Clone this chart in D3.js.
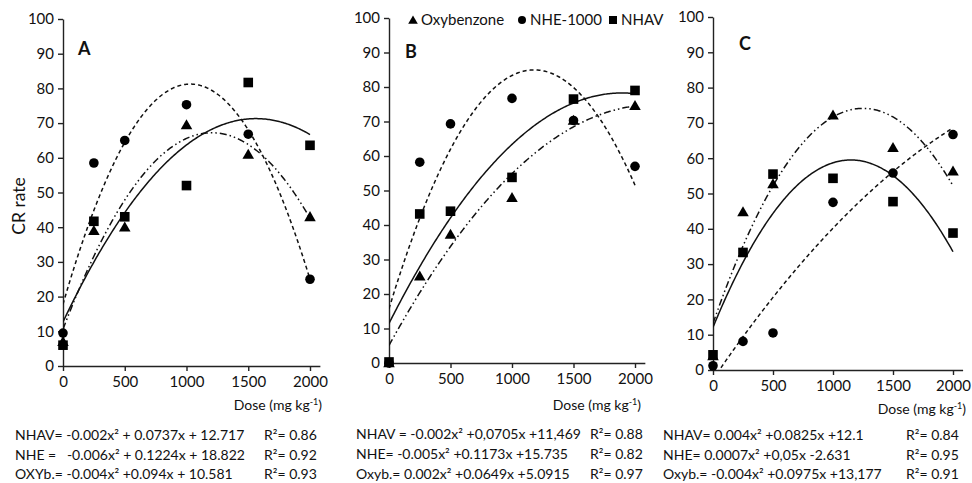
<!DOCTYPE html>
<html>
<head>
<meta charset="utf-8">
<script src="https://cdn.jsdelivr.net/npm/d3@7"></script>
<style>
  body { margin: 0; background: #fff; }
  text { font-family: Lato, "Open Sans", sans-serif; fill: #111; }
</style>
</head>
<body>
<svg id="chart" width="972" height="483"></svg>
<script>
// doses (mg/kg) and tick labels
const doses = [0, 250, 500, 1000, 1500, 2000];
const xTicks = [0, 500, 1000, 1500, 2000];
const yTicks = [0, 10, 20, 30, 40, 50, 60, 70, 80, 90, 100];
const seriesNames = ["Oxybenzone", "NHE-1000", "NHAV"];
const panelLabels = ["A", "B", "C"];

// CR rate
const oxyA = [7, 39, 40, 69.5, 61, 43];
const nheA = [9.5, 58.5, 65, 75.3, 66.8, 25];
const nhavA = [6, 41.7, 43, 52, 81.7, 63.6];

const oxyB = [0, 25.2, 37.3, 47.9, 70.3, 74.6];
const nheB = [0, 58.2, 69.3, 76.7, 70.3, 57];
const nhavB = [0.3, 43.2, 44, 53.8, 76.5, 79];

const oxyC = [4, 44.8, 52.7, 72.2, 63, 56.3];
const nheC = [1.2, 8.1, 10.5, 47.5, 55.8, 66.7];
const nhavC = [4.3, 33.3, 55.5, 54.3, 47.7, 38.8];

// trend line coefficients [c, b, a] for y = c + b*x + a*x^2 (x in mg/kg)
const fitOxyA = [10.58, 0.094, -3.9e-5];
const fitNheA = [17.8, 0.1232, -5.98e-5];
const fitNhavA = [12.7, 0.075, -2.4e-5];

const fitOxyB = [5.09, 0.0649, -1.51e-5];
const fitNheB = [15.74, 0.1173, -4.97e-5];
const fitNhavB = [11.47, 0.0705, -1.86e-5];

const fitOxyC = [13.18, 0.0975, -3.9e-5];
const fitNheC = [-2.63, 0.05, -7.2e-6];
const fitNhavC = [12.1, 0.0825, -3.59e-5];

// equations printed under each panel
const eqA = ["NHAV= -0.002x\u00b2 + 0.0737x + 12.717", "NHE =   -0.006x\u00b2 + 0.1224x + 18.822", "OXYb.= -0.004x\u00b2 +0.094x + 10.581"];
const r2A = ["R\u00b2= 0.86", "R\u00b2= 0.92", "R\u00b2= 0.93"];
const eqB = ["NHAV = -0.002x\u00b2 +0,0705x +11,469", "NHE= -0.005x\u00b2 +0.1173x +15.735", "Oxyb.= 0.002x\u00b2 +0.0649x +5.0915"];
const r2B = ["R\u00b2= 0.88", "R\u00b2= 0.82", "R\u00b2= 0.97"];
const eqC = ["NHAV= 0.004x\u00b2 +0.0825x +12.1", "NHE= 0.0007x\u00b2 +0,05x -2.631", "Oxyb.= -0.004x\u00b2 +0.0975x +13,177"];
const r2C = ["R\u00b2= 0.84", "R\u00b2= 0.95", "R\u00b2= 0.91"];

const panels = [
  { label: "A", oxy: oxyA, nhe: nheA, nhav: nhavA, fits: [fitOxyA, fitNheA, fitNhavA], eq: eqA, r2: r2A,
    x0: 63, x2000: 310, yB: 366, yT: 19, lab: [78, 55], eqX: 15, r2X: 264, eqY: [440, 460, 479], doseX: 322, doseY: 410 },
  { label: "B", oxy: oxyB, nhe: nheB, nhav: nhavB, fits: [fitOxyB, fitNheB, fitNhavB], eq: eqB, r2: r2B,
    x0: 389, x2000: 635, yB: 363, yT: 18, lab: [405, 58], eqX: 356, r2X: 590, eqY: [439, 459, 479], doseX: 641, doseY: 410 },
  { label: "C", oxy: oxyC, nhe: nheC, nhav: nhavC, fits: [fitOxyC, fitNheC, fitNhavC], eq: eqC, r2: r2C,
    x0: 713, x2000: 953, yB: 370, yT: 17, lab: [739, 50], eqX: 663, r2X: 906, eqY: [440, 460, 479], doseX: 966, doseY: 414 }
];

const dashes = ["7,3,1.5,3,1.5,3", "4,3", null];
const svg = d3.select("#chart");

panels.forEach((p, i) => {
  const x = d3.scaleLinear().domain([0, 2000]).range([p.x0, p.x2000]);
  const xEnd = x(2080);
  const xAxisScale = d3.scaleLinear().domain([0, 2080]).range([p.x0, xEnd]);
  const y = d3.scaleLinear().domain([0, 100]).range([p.yB, p.yT]);

  const g = svg.append("g");

  const clipId = "clip" + i;
  svg.append("clipPath").attr("id", clipId)
    .append("rect").attr("x", p.x0).attr("y", p.yT - 5).attr("width", xEnd - p.x0).attr("height", p.yB - p.yT + 5);

  // axes
  const ya = g.append("g").attr("transform", `translate(${p.x0},0)`)
    .call(d3.axisLeft(y).tickValues(yTicks).tickSize(5).tickSizeOuter(0));
  const xa = g.append("g").attr("transform", `translate(0,${p.yB})`)
    .call(d3.axisBottom(xAxisScale).tickValues(xTicks).tickSize(5).tickSizeOuter(0).tickFormat(d3.format("d")));
  [ya, xa].forEach(a => {
    a.select(".domain").attr("stroke", "#222").attr("stroke-width", 1.4);
    a.selectAll(".tick line").attr("stroke", "#222").attr("stroke-width", 1.4);
    a.selectAll(".tick text").style("font-size", "15px").attr("fill", "#111");
  });
  ya.selectAll(".tick text").attr("x", -9);
  xa.selectAll(".tick text").attr("y", 10);

  // trend lines
  const xs = d3.range(0, 2001, 10);
  const line = d3.line().x(d => x(d[0])).y(d => y(d[1]));
  p.fits.forEach((f, k) => {
    const pts = xs.map(v => [v, f[0] + f[1] * v + f[2] * v * v]);
    g.append("path").attr("clip-path", `url(#${clipId})`)
      .attr("d", line(pts)).attr("fill", "none").attr("stroke", "#111")
      .attr("stroke-width", 1.5).attr("stroke-dasharray", dashes[k]);
  });

  // markers: Oxybenzone (triangle), NHE (circle), NHAV (square)
  const tri = d3.symbol().type(d3.symbolTriangle).size(58);
  g.selectAll(".tri").data(doses.map((d, j) => [d, p.oxy[j]])).join("path")
    .attr("d", tri).attr("transform", d => `translate(${x(d[0])},${y(d[1]) + 1})`).attr("fill", "#000");
  g.selectAll(".circ").data(doses.map((d, j) => [d, p.nhe[j]])).join("circle")
    .attr("cx", d => x(d[0])).attr("cy", d => y(d[1])).attr("r", 4.8).attr("fill", "#000");
  g.selectAll(".sq").data(doses.map((d, j) => [d, p.nhav[j]])).join("rect")
    .attr("x", d => x(d[0]) - 4.8).attr("y", d => y(d[1]) - 4.8).attr("width", 9.6).attr("height", 9.6).attr("fill", "#000");

  // panel letter
  g.append("text").attr("x", p.lab[0]).attr("y", p.lab[1]).text(p.label)
    .style("font-size", "18px").style("font-weight", "bold");

  // x title
  const dt = g.append("text").attr("x", p.doseX).attr("y", p.doseY).attr("text-anchor", "end").style("font-size", "14px");
  dt.append("tspan").text("Dose (mg kg");
  dt.append("tspan").text("-1").attr("dy", -5).style("font-size", "9px");
  dt.append("tspan").text(")").attr("dy", 5);

  // equations
  p.eq.forEach((e, k) => {
    g.append("text").attr("x", p.eqX).attr("y", p.eqY[k]).text(e).style("font-size", "14px").attr("xml:space", "preserve");
    g.append("text").attr("x", p.r2X).attr("y", p.eqY[k]).text(p.r2[k]).style("font-size", "14px");
  });
});

// y title
svg.append("text").attr("transform", "translate(25,206) rotate(-90)").attr("text-anchor", "middle")
  .style("font-size", "17.5px").text("CR rate");

// legend in panel B
const legendX = [413, 522, 613];
const legend = svg.append("g").attr("transform", "translate(0,20)");
seriesNames.forEach((name, k) => {
  const lx = legendX[k];
  if (k === 0) legend.append("path").attr("d", d3.symbol().type(d3.symbolTriangle).size(40)()).attr("transform", `translate(${lx},1)`);
  if (k === 1) legend.append("circle").attr("cx", lx).attr("cy", 0).attr("r", 4);
  if (k === 2) legend.append("rect").attr("x", lx - 4).attr("y", -4).attr("width", 8).attr("height", 8);
  legend.append("text").attr("x", lx + 8).attr("y", 5).text(name).style("font-size", "15px");
});
</script>
</body>
</html>
